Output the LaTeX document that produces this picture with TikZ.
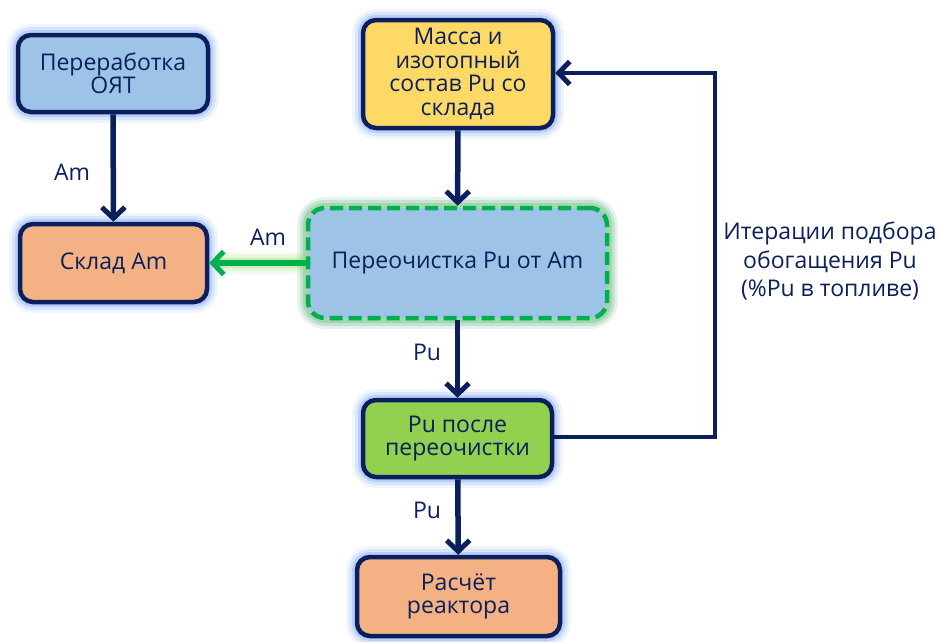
\documentclass[tikz,border=0pt]{standalone}
\usepackage{fontspec}
\setmainfont{Open Sans}
\usetikzlibrary{arrows.meta,positioning}
\definecolor{navy}{HTML}{0B1F5C}
\definecolor{boxblue}{HTML}{9DC3E6}
\definecolor{boxorange}{HTML}{F4B183}
\definecolor{boxyellow}{HTML}{FFD966}
\definecolor{boxgreen}{HTML}{92D050}
\definecolor{glowblue}{HTML}{6F9BF0}
\definecolor{glowgreen}{HTML}{8FE060}
\definecolor{dashgreen}{HTML}{00B050}
\tikzset{
  glowwith/.style={
    preaction={draw=#1, solid, line width=22pt, opacity=0.10},
    preaction={draw=#1, solid, line width=16pt, opacity=0.18},
    preaction={draw=#1, solid, line width=10pt, opacity=0.30}},
  procbox/.style={draw=navy, line width=4.5pt, rounded corners=13pt,
    align=center, text=navy, font=\fontsize{23}{23.5}\selectfont,
    inner sep=0pt, glowwith=glowblue},
  tip/.style={-{Straight Barb[length=11pt,width=23pt,line width=5pt]}},
  flow/.style={draw=navy, line width=5.5pt, tip},
  flowlabel/.style={text=navy, font=\fontsize{23}{23.5}\selectfont}
}
\begin{document}
\begin{tikzpicture}[x=1pt,y=-1pt]
\useasboundingbox (0,0) rectangle (941,641);

% process boxes
\node[procbox, fill=boxblue, minimum width=190pt, minimum height=77pt]
  (reproc) at (113,73.5) {Переработка\\ОЯТ};
\node[procbox, fill=boxorange, minimum width=187pt, minimum height=78pt]
  (amstore) at (113.5,263) {Склад Am};
\node[procbox, fill=boxyellow, minimum width=190pt, minimum height=108pt]
  (pumass) at (458,74) {Масса и\\изотопный\\состав Pu со\\склада};
\node[procbox, fill=boxblue, draw=dashgreen, dash pattern=on 13pt off 6pt,
  glowwith=glowgreen, rounded corners=17pt,
  minimum width=299pt, minimum height=110pt]
  (purify) at (457.5,263) {Переочистка Pu от Am};
\node[procbox, fill=boxgreen, minimum width=189pt, minimum height=77pt]
  (puclean) at (457.5,438.5) {Pu после\\переочистки};
\node[procbox, fill=boxorange, minimum width=203pt, minimum height=79pt]
  (reactor) at (458.5,596.5) {Расчёт\\реактора};

% flows
\draw[flow] (reproc) -- (amstore);
\node[flowlabel] (lam1) at (72,172) {Am};
\draw[flow] (pumass) -- (purify);
\draw[flow, draw=dashgreen, glowwith=glowgreen]
  (purify.west) -- (amstore.east);
\node[flowlabel] (lam2) at (268,237) {Am};
\draw[flow] (purify) -- (puclean);
\node[flowlabel] (lpu1) at (427,352) {Pu};
\draw[flow] (puclean) -- (reactor);
\node[flowlabel] (lpu2) at (427,510) {Pu};

% iteration loop back to the storage input
\coordinate (loopbot) at (715,437);
\coordinate (looptop) at (715,73);
\draw[flow, line width=4.5pt] (puclean.east |- loopbot) -- (loopbot) -- (looptop) -- (pumass.east |- looptop);
\node[flowlabel, align=center, font=\fontsize{23}{28.5}\selectfont]
  (iterlabel) at (830,261) {Итерации подбора\\обогащения Pu\\(\%Pu в топливе)};
\end{tikzpicture}
\end{document}
